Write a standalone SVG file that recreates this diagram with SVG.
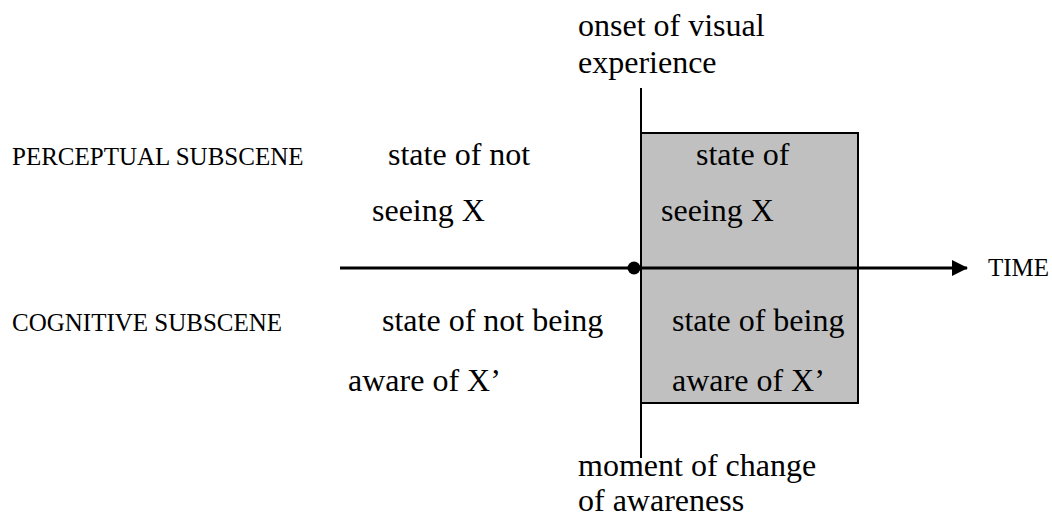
<svg xmlns="http://www.w3.org/2000/svg" width="1052" height="518" viewBox="0 0 1052 518">
<style>
text{font-family:"Liberation Serif","Times New Roman",serif;fill:#000}
.big{font-size:32px}
.lab{font-size:25px}
</style>
<defs>
<marker id="ah" markerWidth="16" markerHeight="16" refX="15" refY="8" orient="auto" markerUnits="userSpaceOnUse">
<path d="M0,0 L16,8 L0,16 Z" fill="#000"/>
</marker>
</defs>
<rect width="1052" height="518" fill="#fff"/>
<g id="box">
<rect x="641" y="133" width="217" height="270" fill="#c0c0c0" stroke="#000" stroke-width="2"/>
</g>
<g id="connectors">
<line x1="641" y1="88" x2="641" y2="458" stroke="#000" stroke-width="2"/>
<line x1="340" y1="268" x2="967" y2="268" stroke="#000" stroke-width="3" marker-end="url(#ah)"/>
<circle cx="634" cy="268" r="6.5" fill="#000"/>
</g>
<g id="labels">
<text class="lab" x="12" y="165">PERCEPTUAL SUBSCENE</text>
<text class="lab" x="12" y="331">COGNITIVE SUBSCENE</text>
<text class="lab" x="988" y="276">TIME</text>
</g>
<g id="onset">
<text class="big" x="578" y="36">onset of visual</text>
<text class="big" x="578" y="73">experience</text>
</g>
<g id="moment">
<text class="big" x="578" y="476">moment of change</text>
<text class="big" x="578" y="511">of awareness</text>
</g>
<g id="not-seeing">
<text class="big" x="388" y="165">state of not</text>
<text class="big" x="372" y="221">seeing X</text>
</g>
<g id="seeing">
<text class="big" x="696" y="165">state of</text>
<text class="big" x="661" y="221">seeing X</text>
</g>
<g id="not-aware">
<text class="big" x="382" y="331">state of not being</text>
<text class="big" x="348" y="391">aware of X’</text>
</g>
<g id="aware">
<text class="big" x="672" y="331">state of being</text>
<text class="big" x="672" y="391">aware of X’</text>
</g>
</svg>
